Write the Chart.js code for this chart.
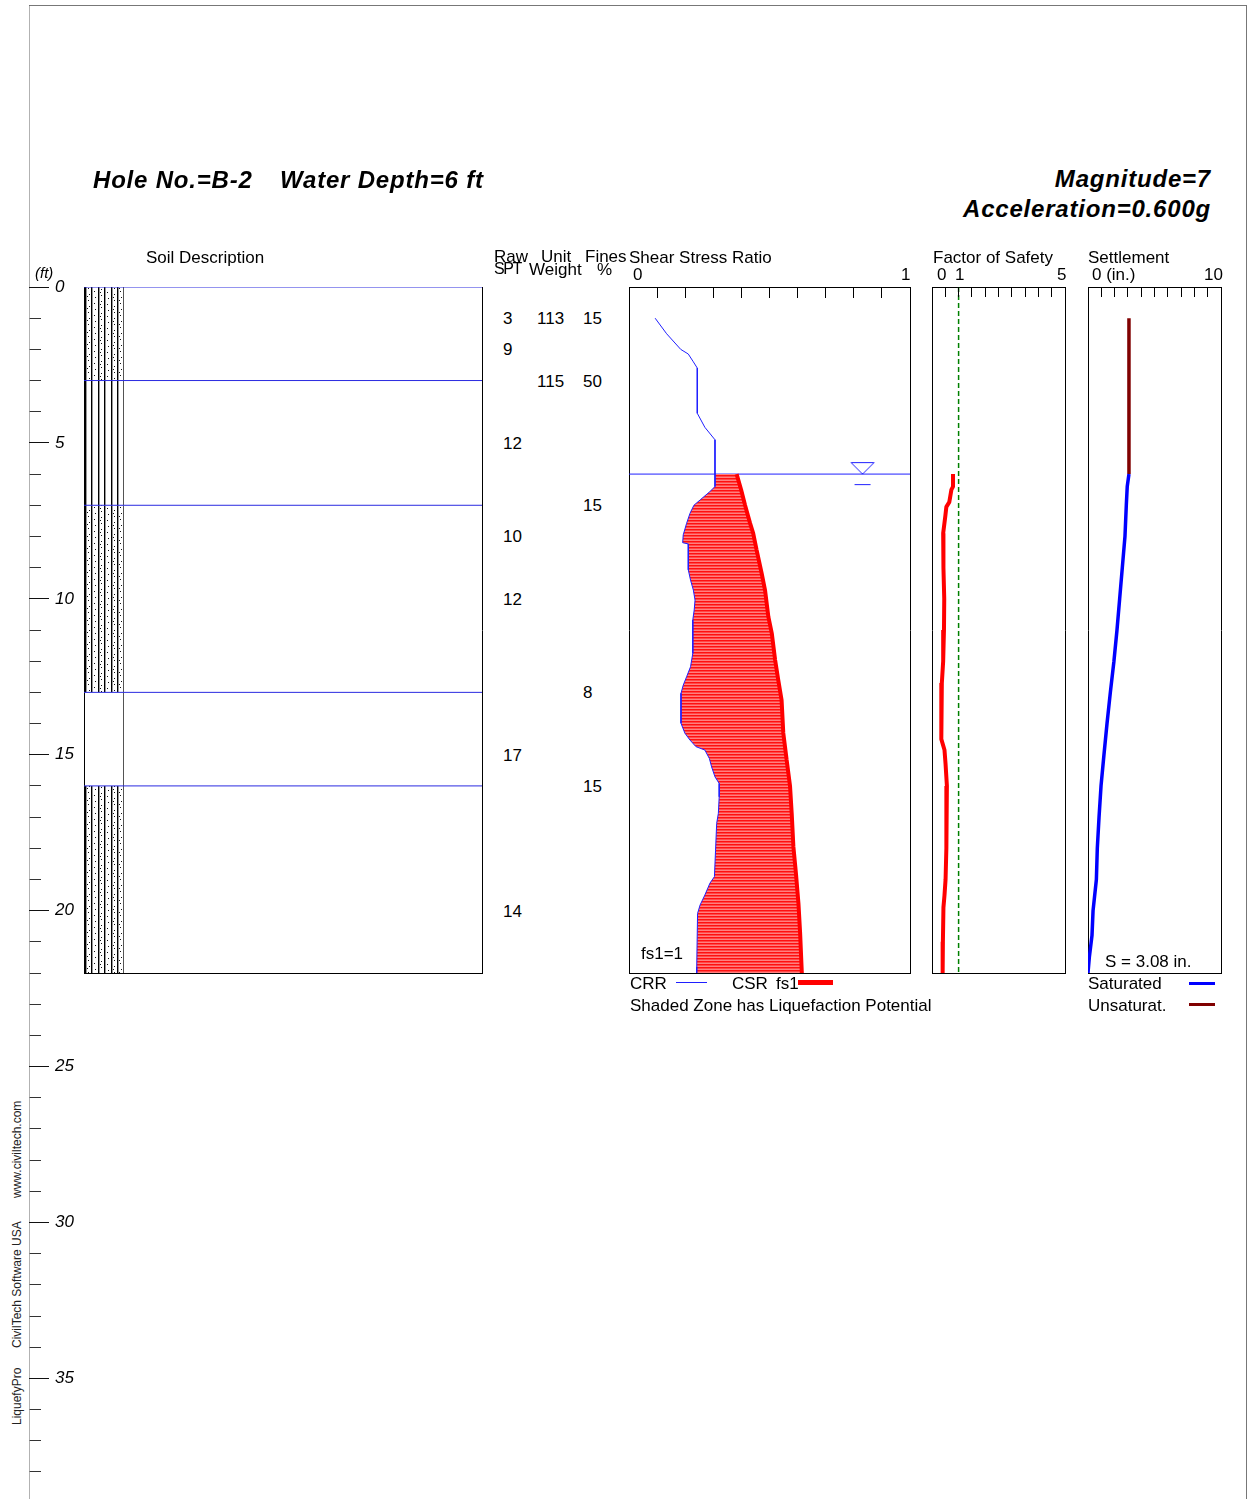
<!DOCTYPE html>
<html>
<head>
<meta charset="utf-8">
<title>LiquefyPro - Hole B-2</title>
<script src="https://cdn.jsdelivr.net/npm/chart.js@4.4.1/dist/chart.umd.min.js"></script>
<style>
  html, body { margin: 0; padding: 0; background: #fff; }
  #page { position: relative; width: 1248px; height: 1499px; overflow: hidden; background: #fff;
          font-family: "Liberation Sans", Arial, sans-serif; color: #000; }
  #page canvas { position: absolute; }
  .txt { position: absolute; white-space: nowrap; line-height: 1; font-size: 17px; transform: translateY(-50%); }
  .title { font-size: 24px; font-weight: bold; font-style: italic; letter-spacing: 0.8px; }
  .ital { font-style: italic; }
  .narrow { font-size: 16px; letter-spacing: -1.4px; }
  .frame { position: absolute; left: 29px; top: 5px; width: 1217px; height: 1500px;
           border-top: 1px solid #777; border-right: 1px solid #777; }
  .swatch { position: absolute; }
  #credit { position: absolute; left: 11px; top: 1425px; width: 400px; height: 12px;
            transform: rotate(-90deg); transform-origin: 0 0; font-size: 12px; line-height: 1; color: #222; }
  #credit span { position: absolute; top: 0; white-space: nowrap; }
</style>
</head>
<body>
<div id="page">
  <div class="frame"></div>
  <div id="credit"><span style="left:0px">LiquefyPro</span><span style="left:77px">CivilTech Software USA</span><span style="left:227px">www.civiltech.com</span></div>
</div>
<script>
// ---- datos ----
const depthMinorTicks = [0, 1, 2, 3, 4, 5, 6, 7, 8, 9, 10, 11, 12, 13, 14, 15, 16, 17, 18, 19,
  20, 21, 22, 23, 24, 25, 26, 27, 28, 29, 30, 31, 32, 33, 34, 35, 36, 37, 38];
const depthLabelTicks = [0, 5, 10, 15, 20, 25, 30, 35];
const shearTicks = [0.1, 0.2, 0.3, 0.4, 0.5, 0.6, 0.7, 0.8, 0.9];
const fsTicks = [0.5, 1, 1.5, 2, 2.5, 3, 3.5, 4, 4.5];
const settleTicks = [1, 2, 3, 4, 5, 6, 7, 8, 9];

const soilTop = [0, 3, 7, 13, 16];
const soilBottom = [3, 7, 13, 16, 22];
const soilType = ["sm", "ml", "sm", "cl", "sm"];

const sptDepth = [1, 2, 5, 8, 10, 15, 20];
const sptValue = [3, 9, 12, 10, 12, 17, 14];
const unitWtDepth = [1, 3];
const unitWtValue = [113, 115];
const finesDepth = [1, 3, 7, 13, 16];
const finesValue = [15, 50, 15, 8, 15];

const waterDepth = 6;
const fsLimit = 1;
const totalSettlement = 3.08;

const crrDepth = [1.0, 1.5, 2.0, 2.15, 2.4, 2.6, 4.05, 4.5, 4.9, 6.0,
  6.4, 6.56, 6.83, 7.0, 7.26, 7.58, 7.95, 8.2, 8.24, 9.07,
  9.4, 9.72, 10.04, 10.36, 10.68, 11.75, 12.18, 12.5, 12.77, 13.03,
  13.99, 14.31, 14.53, 14.74, 14.85, 15.12, 15.39, 15.71, 15.92, 16.35,
  16.88, 17.2, 18.06, 18.91, 19.12, 19.5, 19.82, 20.09, 21.8, 22.0];
const crrValue = [0.093, 0.134, 0.184, 0.211, 0.229, 0.243, 0.243, 0.270, 0.306, 0.306,
  0.306, 0.288, 0.253, 0.231, 0.217, 0.205, 0.193, 0.191, 0.211, 0.211,
  0.219, 0.229, 0.235, 0.232, 0.227, 0.227, 0.219, 0.205, 0.193, 0.185,
  0.185, 0.199, 0.217, 0.238, 0.270, 0.286, 0.294, 0.306, 0.321, 0.321,
  0.318, 0.312, 0.308, 0.304, 0.288, 0.270, 0.253, 0.244, 0.241, 0.241];

const csrDepth = [6.0, 6.5, 7.0, 7.58, 7.9, 8.43, 9.18, 9.72, 10.58, 11.1, 11.96,
  12.6, 13.25, 14.3, 15.17, 16.0, 16.88, 17.95, 18.8, 19.77, 20.73, 22.0];
const csrValue = [0.383, 0.399, 0.413, 0.431, 0.442, 0.454, 0.472, 0.484, 0.496, 0.508, 0.520,
  0.531, 0.543, 0.549, 0.561, 0.573, 0.579, 0.585, 0.594, 0.603, 0.609, 0.615];

const fsDepth = [6.0, 6.4, 6.5, 6.9, 7.05, 7.35, 7.9, 9.0, 10.0, 11.0, 12.0, 12.7, 13.0,
  14.0, 14.5, 14.85, 15.3, 16.0, 17.0, 18.0, 19.0, 19.5, 19.9, 21.0, 22.0];
const fsValue = [0.79, 0.79, 0.73, 0.65, 0.54, 0.50, 0.42, 0.43, 0.46, 0.45, 0.42, 0.37, 0.34,
  0.34, 0.37, 0.47, 0.51, 0.56, 0.55, 0.53, 0.51, 0.47, 0.43, 0.41, 0.40];

const unsatDepth = [1.0, 6.0];
const unsatValue = [3.08, 3.08];
const satDepth = [6.0, 6.4, 7.0, 8.0, 9.0, 10.0, 11.0, 12.0, 13.0, 14.0,
  15.0, 16.0, 17.0, 18.0, 19.0, 20.0, 20.8, 21.5, 22.0];
const satValue = [3.08, 2.95, 2.88, 2.78, 2.58, 2.38, 2.18, 1.95, 1.68, 1.43,
  1.20, 0.98, 0.83, 0.70, 0.63, 0.38, 0.30, 0.10, 0.0];

// ---- geometria de la hoja ----
const PANEL_TOP = 287, PANEL_BOTTOM = 973, MAX_DEPTH = 22;
const PX_PER_FT = (PANEL_BOTTOM - PANEL_TOP) / MAX_DEPTH;
const AXIS_TOP = 5, AXIS_BOTTOM = 1499;
const FONT = '"Liberation Sans", Arial, sans-serif';
const BLUE = "#1f1fff";

Chart.defaults.font.family = FONT;
const page = document.getElementById("page");

function addCanvas(left, top, w, h) {
  const c = document.createElement("canvas");
  c.width = w; c.height = h;
  c.style.left = left + "px"; c.style.top = top + "px";
  c.style.width = w + "px"; c.style.height = h + "px";
  page.appendChild(c);
  return c;
}

function addText(str, left, cy, cls, size) {
  const d = document.createElement("div");
  d.className = "txt" + (cls ? " " + cls : "");
  d.textContent = str;
  d.style.left = left + "px";
  d.style.top = cy + "px";
  if (size) d.style.fontSize = size + "px";
  page.appendChild(d);
  return d;
}

function addTextRight(str, right, cy, cls) {
  const d = addText(str, 0, cy, cls);
  d.style.left = "";
  d.style.right = (1248 - right) + "px";
  return d;
}

function addSwatch(left, top, w, h, color) {
  const s = document.createElement("div");
  s.className = "swatch";
  s.style.cssText = `left:${left}px;top:${top}px;width:${w}px;height:${h}px;background:${color};`;
  page.appendChild(s);
}

function makePattern(w, h, paint) {
  const c = document.createElement("canvas");
  c.width = w; c.height = h;
  const g = c.getContext("2d");
  paint(g);
  return g.createPattern(c, "repeat");
}

function pts(depths, values) {
  return depths.map((d, i) => ({ x: values[i], y: d }));
}

function baseOptions() {
  return {
    responsive: false,
    animation: false,
    events: [],
    devicePixelRatio: 1,
    plugins: { legend: { display: false }, tooltip: { enabled: false } },
    elements: {
      point: { radius: 0 },
      line: { tension: 0, borderCapStyle: "butt", borderJoinStyle: "bevel" }
    },
    layout: { padding: 0, autoPadding: false }
  };
}

// ejes que solo dibujan el borde del panel
function edge(position, min, max, reverse) {
  return {
    type: "linear", position, min, max, reverse: !!reverse,
    ticks: { display: false },
    grid: { drawTicks: false, drawOnChartArea: false },
    border: { display: true, color: "#000", width: 1 },
    afterFit: s => {
      if (s.isHorizontal()) s.height = 0; else s.width = 0;
      s.paddingTop = s.paddingBottom = s.paddingLeft = s.paddingRight = 0;
    }
  };
}

function panelChart(left, width, xMin, xMax, datasets, opts) {
  opts = opts || {};
  const cv = addCanvas(left - 1, PANEL_TOP - 1, width + 2, PANEL_BOTTOM - PANEL_TOP + 2);
  const o = baseOptions();
  o.layout.padding = 1;
  o.indexAxis = opts.indexAxis || "y";
  o.scales = {
    x: edge("bottom", xMin, xMax, false),
    y: edge("left", 0, MAX_DEPTH, true),
    yRight: edge("right", 0, MAX_DEPTH, true)
  };
  if (opts.topBorder !== false) o.scales.xTop = edge("top", xMin, xMax, false);
  datasets.forEach(ds => { ds.xAxisID = "x"; ds.yAxisID = "y"; });
  return new Chart(cv, { type: "line", data: { datasets }, options: o });
}

// marcas cortas hacia adentro en el borde superior de cada panel
function tickStrip(left, width, xMin, xMax, ticks, len) {
  const cv = addCanvas(left - 1, PANEL_TOP, width + 2, len);
  const o = baseOptions();
  o.layout.padding = { left: 1, right: 1, top: 0, bottom: 0 };
  o.scales = {
    x: {
      type: "linear", min: xMin, max: xMax,
      afterBuildTicks: s => { s.ticks = ticks.map(v => ({ value: v })); },
      ticks: { display: false },
      grid: { drawTicks: false, color: "#000", lineWidth: 1 },
      border: { display: false },
      afterFit: s => { s.height = 0; s.paddingLeft = s.paddingRight = 0; }
    },
    y: { type: "linear", display: false, min: 0, max: 1 }
  };
  return new Chart(cv, { type: "line", data: { datasets: [] }, options: o });
}

// ======================================================
// Eje de profundidad (ft)
// ======================================================
const axisMin = (AXIS_TOP - PANEL_TOP) / PX_PER_FT;
const axisMax = (AXIS_BOTTOM - PANEL_TOP) / PX_PER_FT;

(function () {
  const cv = addCanvas(29, AXIS_TOP, 12, AXIS_BOTTOM - AXIS_TOP);
  const o = baseOptions();
  o.scales = {
    x: { type: "linear", display: false },
    y: {
      type: "linear", position: "left", min: axisMin, max: axisMax, reverse: true,
      afterBuildTicks: s => { s.ticks = depthMinorTicks.map(v => ({ value: v })); },
      ticks: { display: false },
      grid: { drawTicks: false, color: "#333", lineWidth: 1 },
      border: { display: true, color: "#666", width: 1.5 },
      afterFit: s => { s.width = 0; s.paddingTop = s.paddingBottom = 0; }
    }
  };
  new Chart(cv, { type: "line", data: { datasets: [] }, options: o });
})();

(function () {
  const cv = addCanvas(29, AXIS_TOP, 80, AXIS_BOTTOM - AXIS_TOP);
  const o = baseOptions();
  o.scales = {
    x: { type: "linear", display: false },
    y: {
      type: "linear", position: "right", min: axisMin, max: axisMax, reverse: true,
      afterBuildTicks: s => { s.ticks = depthLabelTicks.map(v => ({ value: v })); },
      ticks: { display: true, autoSkip: false, padding: 6, color: "#000",
               font: { family: FONT, size: 17, style: "italic" }, callback: v => String(v) },
      grid: { drawTicks: false, color: "#111", lineWidth: 1 },
      border: { display: false },
      afterFit: s => { s.width = 60; s.paddingTop = s.paddingBottom = 0; }
    }
  };
  new Chart(cv, { type: "line", data: { datasets: [] }, options: o });
})();

// ======================================================
// Columna de suelo (tramas)
// ======================================================
const linePattern = (g, dots) => {
  g.fillStyle = "#fff"; g.fillRect(0, 0, 40, 12);
  g.fillStyle = "#999";
  [2, 8, 15, 21, 28, 34].forEach(x => g.fillRect(x, 0, 1, 12));
  g.fillStyle = "#000";
  [1, 7, 14, 20, 27, 33].forEach(x => g.fillRect(x, 0, 1, 12));
  if (dots) {
    g.fillStyle = "#111";
    [[4, 1], [5, 7], [10, 4], [11, 10], [17, 2], [17, 8], [23, 5], [24, 11],
     [30, 1], [30, 7], [36, 4], [37, 10], [3, 9], [16, 5], [29, 10], [35, 1]].forEach(([x, y]) => g.fillRect(x, y, 1, 1));
  }
};

const stripCanvas = addCanvas(84, PANEL_TOP, 40, PANEL_BOTTOM - PANEL_TOP);
const soilFills = {
  sm: makePattern(40, 12, g => linePattern(g, true)),
  ml: makePattern(40, 12, g => linePattern(g, false)),
  cl: "#ffffff"
};

(function () {
  const o = baseOptions();
  o.scales = {
    x: { type: "category", display: false },
    y: { type: "linear", display: false, min: 0, max: MAX_DEPTH, reverse: true }
  };
  new Chart(stripCanvas, {
    type: "bar",
    data: {
      labels: ["suelo"],
      datasets: soilTop.map((top, i) => ({
        data: [[top, soilBottom[i]]],
        backgroundColor: soilFills[soilType[i]],
        borderColor: "#000",
        borderWidth: { left: 1, right: 1, top: 0, bottom: 0 },
        borderSkipped: false,
        barPercentage: 1,
        categoryPercentage: 1,
        grouped: false
      }))
    },
    options: o
  });
})();

const soilChart = panelChart(84, 398, 0, 1,
  soilTop.map(d => ({
    data: [{ x: 0, y: d }, { x: 1, y: d }],
    borderColor: "#2a2ae0",
    borderWidth: 1
  })),
  { indexAxis: "x", topBorder: false });

const soilY = d => (PANEL_TOP - 1) + soilChart.scales.y.getPixelForValue(d);
sptDepth.forEach((d, i) => addText(String(sptValue[i]), 503, soilY(d)));
unitWtDepth.forEach((d, i) => addText(String(unitWtValue[i]), 537, soilY(d)));
finesDepth.forEach((d, i) => addText(String(finesValue[i]), 583, soilY(d)));

// ======================================================
// Shear Stress Ratio: CRR / CSR
// ======================================================
const shadePattern = makePattern(4, 3, g => {
  g.fillStyle = "#ff8080"; g.fillRect(0, 0, 4, 3);
  g.fillStyle = "#ff1010"; g.fillRect(0, 0, 4, 1);
  g.fillStyle = "#ff4848"; g.fillRect(0, 1, 4, 1);
});

const waterSymbol = (function () {
  const c = document.createElement("canvas");
  c.width = 26; c.height = 26;
  const g = c.getContext("2d");
  g.strokeStyle = BLUE; g.lineWidth = 1;
  g.beginPath();
  g.moveTo(1.5, 1.5); g.lineTo(24.5, 1.5); g.lineTo(13, 13); g.closePath();
  g.stroke();
  g.beginPath();
  g.moveTo(5, 23.5); g.lineTo(21, 23.5);
  g.stroke();
  return c;
})();

panelChart(629, 281, 0, 1, [
  { data: pts(crrDepth, crrValue), borderColor: BLUE, borderWidth: 1, fill: false },
  { data: pts(csrDepth, csrValue), borderColor: "#ff0000", borderWidth: 4,
    fill: "-1", backgroundColor: shadePattern },
  { data: [{ x: 0, y: waterDepth }, { x: 1, y: waterDepth }], borderColor: BLUE, borderWidth: 1, fill: false },
  { data: [{ x: 0.831, y: waterDepth }], showLine: false, pointStyle: waterSymbol,
    pointRadius: 5, fill: false }
]);
tickStrip(629, 281, 0, 1, shearTicks, 11);

// ======================================================
// Factor of Safety
// ======================================================
panelChart(932, 133, 0, 5, [
  { data: pts(fsDepth, fsValue), borderColor: "#ff0000", borderWidth: 4, fill: false },
  { data: [{ x: fsLimit, y: 0 }, { x: fsLimit, y: MAX_DEPTH }], borderColor: "#008000",
    borderWidth: 1.5, borderDash: [5, 3], fill: false }
]);
tickStrip(932, 133, 0, 5, fsTicks, 10);

// ======================================================
// Settlement
// ======================================================
panelChart(1088, 133, 0, 10, [
  { data: pts(satDepth, satValue), borderColor: "#0000ff", borderWidth: 3.5, fill: false },
  { data: pts(unsatDepth, unsatValue), borderColor: "#800000", borderWidth: 3.5, fill: false }
]);
tickStrip(1088, 133, 0, 10, settleTicks, 10);

// ======================================================
// Textos
// ======================================================
addText("Hole No.=B-2", 93, 180, "title");
addText("Water Depth=" + waterDepth + " ft", 280, 180, "title");
addTextRight("Magnitude=7", 1211, 179, "title");
addTextRight("Acceleration=0.600g", 1211, 209, "title");

addText("(ft)", 35, 272, "ital", 15);
addText("Soil Description", 146, 257);
addText("Raw", 494, 256);
addText("SPT", 494, 269, "narrow");
addText("Unit", 541, 256);
addText("Weight", 529, 269);
addText("Fines", 585, 256);
addText("%", 597, 269);

addText("Shear Stress Ratio", 629, 257);
addText("0", 633, 274);
addText("1", 901, 274);
addText("Factor of Safety", 933, 257);
addText("0", 937, 274);
addText("1", 955, 274);
addText("5", 1057, 274);
addText("Settlement", 1088, 257);
addText("0 (in.)", 1092, 274);
addText("10", 1204, 274);

addText("fs1=1", 641, 952.5);
addText("S = " + totalSettlement.toFixed(2) + " in.", 1105, 960.5);

addText("CRR", 630, 982.5);
addSwatch(676, 982, 31, 1, BLUE);
addText("CSR", 732, 982.5);
addText("fs1", 776, 982.5);
addSwatch(798, 980, 35, 5, "#ff0000");
addText("Shaded Zone has Liquefaction Potential", 630, 1005);

addText("Saturated", 1088, 983);
addSwatch(1189, 982, 26, 3, "#0000ff");
addText("Unsaturat.", 1088, 1005);
addSwatch(1189, 1003, 26, 3, "#800000");
</script>
</body>
</html>
